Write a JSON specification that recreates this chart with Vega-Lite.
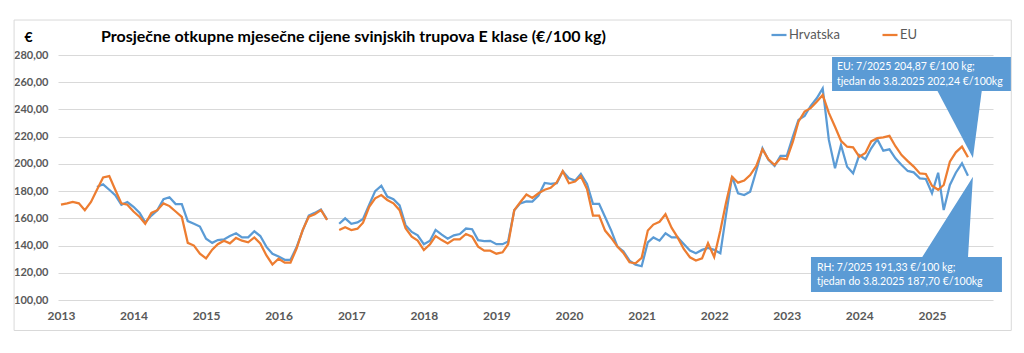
{
  "$schema": "https://vega.github.io/schema/vega-lite/v6.json",
  "width": 935,
  "height": 245,
  "autosize": {"type": "none"},
  "padding": {"left": 58, "top": 55, "right": 31, "bottom": 53},
  "background": "white",
  "config": {"font": "Lato", "view": {"stroke": null}},
  "title": {
    "text": "Prosječne otkupne mjesečne cijene svinjskih trupova E klase (€/100 kg)",
    "anchor": "start",
    "frame": "group",
    "dx": 43,
    "dy": 37,
    "offset": 12,
    "fontSize": 16,
    "fontWeight": "bold",
    "color": "#000000",
    "font": "Lato"
  },
  "datasets": {
    "prices": [
      {"m": "2013-01-01", "Hrvatska": null, "EU": 170},
      {"m": "2013-02-01", "Hrvatska": null, "EU": 171},
      {"m": "2013-03-01", "Hrvatska": null, "EU": 172},
      {"m": "2013-04-01", "Hrvatska": null, "EU": 171},
      {"m": "2013-05-01", "Hrvatska": null, "EU": 166},
      {"m": "2013-06-01", "Hrvatska": null, "EU": 172},
      {"m": "2013-07-01", "Hrvatska": 183, "EU": 181},
      {"m": "2013-08-01", "Hrvatska": 185, "EU": 190},
      {"m": "2013-09-01", "Hrvatska": 181, "EU": 191},
      {"m": "2013-10-01", "Hrvatska": 177, "EU": 181},
      {"m": "2013-11-01", "Hrvatska": 170, "EU": 171},
      {"m": "2013-12-01", "Hrvatska": 172, "EU": 170},
      {"m": "2014-01-01", "Hrvatska": 168.5, "EU": 165},
      {"m": "2014-02-01", "Hrvatska": 164, "EU": 161},
      {"m": "2014-03-01", "Hrvatska": 157, "EU": 156},
      {"m": "2014-04-01", "Hrvatska": 162, "EU": 164},
      {"m": "2014-05-01", "Hrvatska": 166, "EU": 166},
      {"m": "2014-06-01", "Hrvatska": 174, "EU": 171},
      {"m": "2014-07-01", "Hrvatska": 175.5, "EU": 169},
      {"m": "2014-08-01", "Hrvatska": 170.5, "EU": 165},
      {"m": "2014-09-01", "Hrvatska": 170.5, "EU": 161},
      {"m": "2014-10-01", "Hrvatska": 158, "EU": 142},
      {"m": "2014-11-01", "Hrvatska": 156, "EU": 140},
      {"m": "2014-12-01", "Hrvatska": 154, "EU": 134},
      {"m": "2015-01-01", "Hrvatska": 145, "EU": 130.6},
      {"m": "2015-02-01", "Hrvatska": 142, "EU": 137},
      {"m": "2015-03-01", "Hrvatska": 144, "EU": 141},
      {"m": "2015-04-01", "Hrvatska": 144.5, "EU": 143.6},
      {"m": "2015-05-01", "Hrvatska": 147, "EU": 141.6},
      {"m": "2015-06-01", "Hrvatska": 149, "EU": 145.6},
      {"m": "2015-07-01", "Hrvatska": 146, "EU": 143.6},
      {"m": "2015-08-01", "Hrvatska": 146, "EU": 142.4},
      {"m": "2015-09-01", "Hrvatska": 150.5, "EU": 146},
      {"m": "2015-10-01", "Hrvatska": 147, "EU": 141.6},
      {"m": "2015-11-01", "Hrvatska": 139, "EU": 132.7},
      {"m": "2015-12-01", "Hrvatska": 134, "EU": 126.1},
      {"m": "2016-01-01", "Hrvatska": 132, "EU": 130.3},
      {"m": "2016-02-01", "Hrvatska": 129.5, "EU": 127.4},
      {"m": "2016-03-01", "Hrvatska": 129.5, "EU": 127.4},
      {"m": "2016-04-01", "Hrvatska": 139, "EU": 138},
      {"m": "2016-05-01", "Hrvatska": 151, "EU": 151.4},
      {"m": "2016-06-01", "Hrvatska": 162, "EU": 161.2},
      {"m": "2016-07-01", "Hrvatska": 164, "EU": 163},
      {"m": "2016-08-01", "Hrvatska": 166.5, "EU": 166.1},
      {"m": "2016-09-01", "Hrvatska": 159, "EU": 158.8},
      {"m": "2016-10-01", "Hrvatska": null, "EU": null},
      {"m": "2016-11-01", "Hrvatska": 156, "EU": 151.4},
      {"m": "2016-12-01", "Hrvatska": 160, "EU": 153.4},
      {"m": "2017-01-01", "Hrvatska": 156, "EU": 151.4},
      {"m": "2017-02-01", "Hrvatska": 157, "EU": 152.4},
      {"m": "2017-03-01", "Hrvatska": 159.5, "EU": 156.8},
      {"m": "2017-04-01", "Hrvatska": 170, "EU": 168.5},
      {"m": "2017-05-01", "Hrvatska": 180, "EU": 174.7},
      {"m": "2017-06-01", "Hrvatska": 184, "EU": 177.1},
      {"m": "2017-07-01", "Hrvatska": 176, "EU": 173.5},
      {"m": "2017-08-01", "Hrvatska": 174, "EU": 171},
      {"m": "2017-09-01", "Hrvatska": 169.5, "EU": 166},
      {"m": "2017-10-01", "Hrvatska": 155, "EU": 152.7},
      {"m": "2017-11-01", "Hrvatska": 150, "EU": 146.5},
      {"m": "2017-12-01", "Hrvatska": 147.5, "EU": 143.6},
      {"m": "2018-01-01", "Hrvatska": 141, "EU": 136.7},
      {"m": "2018-02-01", "Hrvatska": 143.5, "EU": 141},
      {"m": "2018-03-01", "Hrvatska": 151.5, "EU": 147},
      {"m": "2018-04-01", "Hrvatska": 148, "EU": 144},
      {"m": "2018-05-01", "Hrvatska": 145, "EU": 141.6},
      {"m": "2018-06-01", "Hrvatska": 147.5, "EU": 144.6},
      {"m": "2018-07-01", "Hrvatska": 148.5, "EU": 144.6},
      {"m": "2018-08-01", "Hrvatska": 152.5, "EU": 148.5},
      {"m": "2018-09-01", "Hrvatska": 152, "EU": 146.5},
      {"m": "2018-10-01", "Hrvatska": 144, "EU": 139.2},
      {"m": "2018-11-01", "Hrvatska": 143.3, "EU": 136.2},
      {"m": "2018-12-01", "Hrvatska": 143.5, "EU": 136.2},
      {"m": "2019-01-01", "Hrvatska": 141, "EU": 134},
      {"m": "2019-02-01", "Hrvatska": 141, "EU": 135},
      {"m": "2019-03-01", "Hrvatska": 143, "EU": 141},
      {"m": "2019-04-01", "Hrvatska": 166, "EU": 166},
      {"m": "2019-05-01", "Hrvatska": 171, "EU": 171.8},
      {"m": "2019-06-01", "Hrvatska": 172.5, "EU": 177.5},
      {"m": "2019-07-01", "Hrvatska": 172.3, "EU": 175},
      {"m": "2019-08-01", "Hrvatska": 176.7, "EU": 178.4},
      {"m": "2019-09-01", "Hrvatska": 186, "EU": 181},
      {"m": "2019-10-01", "Hrvatska": 185.3, "EU": 182.4},
      {"m": "2019-11-01", "Hrvatska": 185.8, "EU": 186.5},
      {"m": "2019-12-01", "Hrvatska": 194.6, "EU": 194.6},
      {"m": "2020-01-01", "Hrvatska": 189.5, "EU": 185.8},
      {"m": "2020-02-01", "Hrvatska": 187.7, "EU": 187},
      {"m": "2020-03-01", "Hrvatska": 192.6, "EU": 191},
      {"m": "2020-04-01", "Hrvatska": 185.3, "EU": 181.6},
      {"m": "2020-05-01", "Hrvatska": 170.6, "EU": 162},
      {"m": "2020-06-01", "Hrvatska": 170.6, "EU": 162},
      {"m": "2020-07-01", "Hrvatska": 161, "EU": 151},
      {"m": "2020-08-01", "Hrvatska": 151, "EU": 145.6},
      {"m": "2020-09-01", "Hrvatska": 139.2, "EU": 139.2},
      {"m": "2020-10-01", "Hrvatska": 135.8, "EU": 134.6},
      {"m": "2020-11-01", "Hrvatska": 128.9, "EU": 127.7},
      {"m": "2020-12-01", "Hrvatska": 126, "EU": 127},
      {"m": "2021-01-01", "Hrvatska": 124.8, "EU": 131},
      {"m": "2021-02-01", "Hrvatska": 142.4, "EU": 151},
      {"m": "2021-03-01", "Hrvatska": 146, "EU": 155.4},
      {"m": "2021-04-01", "Hrvatska": 143.6, "EU": 157.5},
      {"m": "2021-05-01", "Hrvatska": 149, "EU": 163},
      {"m": "2021-06-01", "Hrvatska": 146, "EU": 153},
      {"m": "2021-07-01", "Hrvatska": 146, "EU": 146},
      {"m": "2021-08-01", "Hrvatska": 141.2, "EU": 137.5},
      {"m": "2021-09-01", "Hrvatska": 136.3, "EU": 131.4},
      {"m": "2021-10-01", "Hrvatska": 134.3, "EU": 129},
      {"m": "2021-11-01", "Hrvatska": 136.8, "EU": 130.6},
      {"m": "2021-12-01", "Hrvatska": 138.2, "EU": 141.7},
      {"m": "2022-01-01", "Hrvatska": 136.8, "EU": 131.6},
      {"m": "2022-02-01", "Hrvatska": 134.3, "EU": 151},
      {"m": "2022-03-01", "Hrvatska": 162, "EU": 171},
      {"m": "2022-04-01", "Hrvatska": 190.6, "EU": 190.6},
      {"m": "2022-05-01", "Hrvatska": 178.4, "EU": 186.2},
      {"m": "2022-06-01", "Hrvatska": 177.1, "EU": 187.7},
      {"m": "2022-07-01", "Hrvatska": 179.6, "EU": 191.8},
      {"m": "2022-08-01", "Hrvatska": 195, "EU": 198.5},
      {"m": "2022-09-01", "Hrvatska": 211.5, "EU": 210.7},
      {"m": "2022-10-01", "Hrvatska": 202.9, "EU": 203.4},
      {"m": "2022-11-01", "Hrvatska": 198.5, "EU": 199.2},
      {"m": "2022-12-01", "Hrvatska": 205.8, "EU": 204.1},
      {"m": "2023-01-01", "Hrvatska": 205.8, "EU": 203.4},
      {"m": "2023-02-01", "Hrvatska": 220, "EU": 216.3},
      {"m": "2023-03-01", "Hrvatska": 232.3, "EU": 231},
      {"m": "2023-04-01", "Hrvatska": 235.2, "EU": 238.4},
      {"m": "2023-05-01", "Hrvatska": 242.5, "EU": 240.9},
      {"m": "2023-06-01", "Hrvatska": 248.2, "EU": 245.7},
      {"m": "2023-07-01", "Hrvatska": 255.5, "EU": 250.6},
      {"m": "2023-08-01", "Hrvatska": 217.6, "EU": 237.5},
      {"m": "2023-09-01", "Hrvatska": 196.8, "EU": 227.3},
      {"m": "2023-10-01", "Hrvatska": 213.9, "EU": 217},
      {"m": "2023-11-01", "Hrvatska": 197.9, "EU": 212.6},
      {"m": "2023-12-01", "Hrvatska": 193.1, "EU": 212.2},
      {"m": "2024-01-01", "Hrvatska": 206.5, "EU": 205.3},
      {"m": "2024-02-01", "Hrvatska": 203.4, "EU": 208},
      {"m": "2024-03-01", "Hrvatska": 211.5, "EU": 216.5},
      {"m": "2024-04-01", "Hrvatska": 218, "EU": 219},
      {"m": "2024-05-01", "Hrvatska": 209.7, "EU": 219.5},
      {"m": "2024-06-01", "Hrvatska": 210.7, "EU": 220.6},
      {"m": "2024-07-01", "Hrvatska": 204.1, "EU": 213},
      {"m": "2024-08-01", "Hrvatska": 199.2, "EU": 206.5},
      {"m": "2024-09-01", "Hrvatska": 194.8, "EU": 202},
      {"m": "2024-10-01", "Hrvatska": 193.8, "EU": 198},
      {"m": "2024-11-01", "Hrvatska": 189.4, "EU": 193},
      {"m": "2024-12-01", "Hrvatska": 188.9, "EU": 192.6},
      {"m": "2025-01-01", "Hrvatska": 178.4, "EU": 184},
      {"m": "2025-02-01", "Hrvatska": 193.5, "EU": 181},
      {"m": "2025-03-01", "Hrvatska": 166.1, "EU": 184.5},
      {"m": "2025-04-01", "Hrvatska": 184.5, "EU": 201.6},
      {"m": "2025-05-01", "Hrvatska": 193.5, "EU": 208.5},
      {"m": "2025-06-01", "Hrvatska": 200.4, "EU": 212.7},
      {"m": "2025-07-01", "Hrvatska": 191.33, "EU": 204.87}
    ],
    "boxes": [
      {"g": "EU", "x1": "2023-08-17", "x2": "2026-02-02", "top": 278.5, "bottom": 253.6},
      {"g": "RH", "x1": "2023-05-03", "x2": "2025-12-19", "top": 131.6, "bottom": 105.9}
    ],
    "wedges": [
      {"g": "EU", "d": "2025-01-26", "hi": 254.3, "lo": 254.3},
      {"g": "EU", "d": "2025-07-26", "hi": 254.3, "lo": 204.3},
      {"g": "EU", "d": "2025-09-09", "hi": 254.3, "lo": 254.3},
      {"g": "RH", "d": "2024-11-10", "hi": 130.9, "lo": 130.9},
      {"g": "RH", "d": "2025-07-01", "hi": 184.7, "lo": 130.9},
      {"g": "RH", "d": "2025-07-26", "hi": 190.6, "lo": 190.6}
    ],
    "notes": [
      {"x": "2023-09-11", "y": 271.3, "t": "EU: 7/2025  204,87 €/100 kg;"},
      {"x": "2023-09-11", "y": 260.3, "t": "tjedan do 3.8.2025 202,24 €/100kg"},
      {"x": "2023-06-02", "y": 123.5, "t": "RH: 7/2025  191,33 €/100 kg;"},
      {"x": "2023-06-02", "y": 113.4, "t": "tjedan do 3.8.2025 187,70 €/100kg"}
    ]
  },
  "layer": [
    {
      "data": {"values": [{}]},
      "mark": {"type": "rect", "fill": null, "fillOpacity": 0, "stroke": "#D9D9D9", "strokeWidth": 1},
      "encoding": {
        "x": {"datum": {"year": 2012, "month": 5, "date": 10, "utc": true}, "type": "temporal", "title": null,
              "scale": {"type": "utc", "domain": [{"year": 2012, "month": 12, "date": 17, "utc": true}, {"year": 2025, "month": 11, "date": 4, "utc": true}]}},
        "x2": {"datum": {"year": 2026, "month": 2, "date": 4, "utc": true}},
        "y": {"datum": 305.7, "type": "quantitative", "title": "€", "scale": {"domain": [100, 280], "nice": false, "zero": false}},
        "y2": {"datum": 77.6}
      }
    },
    {
      "data": {"name": "prices"},
      "transform": [{"fold": ["Hrvatska", "EU"], "as": ["serija", "cijena"]}],
      "mark": {"type": "line", "strokeWidth": 2.25, "invalid": "break-paths-show-domains"},
      "encoding": {
        "x": {
          "field": "m", "type": "temporal", "title": null,
          "scale": {"type": "utc", "domain": [{"year": 2012, "month": 12, "date": 17, "utc": true}, {"year": 2025, "month": 11, "date": 4, "utc": true}]},
          "axis": {
            "tickCount": {"interval": "year", "step": 1},
            "format": "%Y",
            "grid": false, "domain": false, "ticks": false,
            "labelPadding": 10, "labelFontSize": 12, "labelFontWeight": "bold",
            "labelColor": "#595959", "labelFont": "Lato", "labelFlush": false, "labelOverlap": false
          }
        },
        "y": {
          "field": "cijena", "type": "quantitative", "title": "€",
          "scale": {"domain": [100, 280], "nice": false, "zero": false},
          "axis": {
            "tickCount": 10,
            "labelExpr": "replace(format(datum.value, '.2f'), '.', ',')",
            "labelOverlap": false,
            "grid": true, "gridColor": "#D9D9D9", "gridWidth": 1,
            "domain": false, "ticks": false, "labelPadding": 10,
            "labelFont": "Lato", "labelFontSize": 11, "labelFontWeight": "bold", "labelColor": "#595959",
            "title": "€", "titleAngle": 0, "titleX": -30, "titleY": -18,
            "titleAlign": "center", "titleBaseline": "middle",
            "titleFontSize": 14, "titleFontWeight": "bold", "titleColor": "#000000", "titleFont": "Lato"
          }
        },
        "color": {
          "field": "serija", "type": "nominal",
          "scale": {"domain": ["Hrvatska", "EU"], "range": ["#5B9BD5", "#ED7D31"]},
          "legend": {
            "orient": "none", "legendX": 712, "legendY": -29, "direction": "horizontal",
            "title": null, "symbolType": "stroke", "symbolStrokeWidth": 2.25, "symbolSize": 225,
            "labelFontSize": 13, "labelColor": "#595959", "labelFont": "Lato",
            "columnPadding": 38, "labelOffset": 1, "padding": 0
          }
        }
      }
    },
    {
      "data": {"name": "boxes"},
      "mark": {"type": "rect", "color": "#5B9BD5", "opacity": 1},
      "encoding": {
        "x": {"field": "x1", "type": "temporal", "title": null,
              "scale": {"type": "utc", "domain": [{"year": 2012, "month": 12, "date": 17, "utc": true}, {"year": 2025, "month": 11, "date": 4, "utc": true}]}},
        "x2": {"field": "x2"},
        "y": {"field": "top", "type": "quantitative", "title": "€", "scale": {"domain": [100, 280], "nice": false, "zero": false}},
        "y2": {"field": "bottom"}
      }
    },
    {
      "data": {"name": "wedges"},
      "mark": {"type": "area", "color": "#5B9BD5", "opacity": 1},
      "encoding": {
        "x": {"field": "d", "type": "temporal", "title": null,
              "scale": {"type": "utc", "domain": [{"year": 2012, "month": 12, "date": 17, "utc": true}, {"year": 2025, "month": 11, "date": 4, "utc": true}]}},
        "y": {"field": "hi", "type": "quantitative", "title": "€", "stack": null, "scale": {"domain": [100, 280], "nice": false, "zero": false}},
        "y2": {"field": "lo"},
        "detail": {"field": "g", "type": "nominal"}
      }
    },
    {
      "data": {"name": "notes"},
      "mark": {"type": "text", "align": "left", "baseline": "middle", "color": "#FFFFFF", "fontSize": 10.5, "font": "Lato"},
      "encoding": {
        "x": {"field": "x", "type": "temporal", "title": null,
              "scale": {"type": "utc", "domain": [{"year": 2012, "month": 12, "date": 17, "utc": true}, {"year": 2025, "month": 11, "date": 4, "utc": true}]}},
        "y": {"field": "y", "type": "quantitative", "title": "€", "scale": {"domain": [100, 280], "nice": false, "zero": false}},
        "text": {"field": "t", "type": "nominal"}
      }
    }
  ]
}
